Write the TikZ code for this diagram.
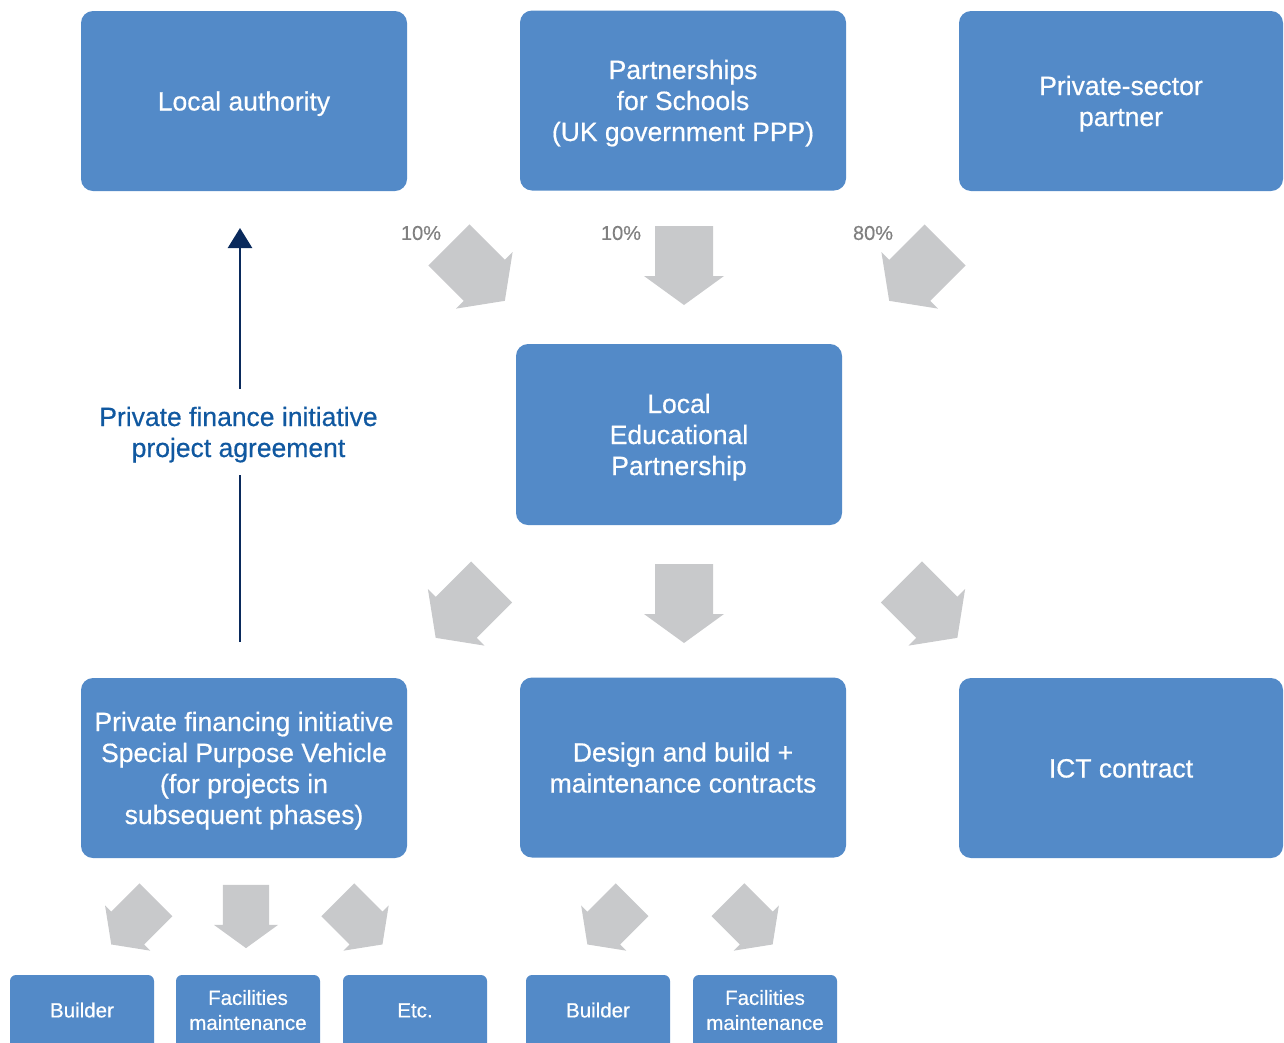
\documentclass[tikz,border=0pt]{standalone}
\usepackage{fontspec}
\setmainfont{Liberation Sans}[FakeBold=0.5]
\usetikzlibrary{arrows.meta}

\definecolor{boxblue}{RGB}{83,138,200}
\definecolor{arrowgrey}{RGB}{200,201,203}
\definecolor{pctgrey}{RGB}{128,128,128}
\definecolor{labelblue}{RGB}{16,88,160}
\definecolor{navy}{RGB}{10,42,92}

% struts that centre the cap height of a text block in its box
\newcommand{\topstrut}{\rule{0pt}{25pt}}
\newcommand{\botstrut}{\rule[-6pt]{0pt}{6pt}}
\newcommand{\topstrutsm}{\rule{0pt}{19pt}}
\newcommand{\botstrutsm}{\rule[-8.3pt]{0pt}{8.3pt}}

\begin{document}
\begin{tikzpicture}[x=1pt,y=-1pt,
  bigbox/.style={rectangle, rounded corners=12pt, fill=boxblue, text=white,
    minimum width=326pt, minimum height=180pt, align=center, inner sep=0pt,
    font=\fontsize{26.5}{31}\selectfont},
  smallbox/.style={rectangle, rounded corners=6pt, fill=boxblue, text=white,
    minimum width=144pt, minimum height=74pt, align=center, inner sep=0pt,
    font=\fontsize{20.5}{25}\selectfont},
  pct/.style={text=pctgrey, font=\fontsize{20}{22}\selectfont, inner sep=0pt},
  blockarrow/.pic={
    \fill[arrowgrey] (-29,-39.5) -- (29,-39.5) -- (29,10.5) -- (40,10.5)
      -- (0,39.5) -- (-40,10.5) -- (-29,10.5) -- cycle;
  }
]
\useasboundingbox (0,0) rectangle (1284,1042);
\clip (0,0) rectangle (1284,1042);

% top row
\node[bigbox] (la)  at (244,101)   {\topstrut Local authority\botstrut};
\node[bigbox] (pfs) at (683,100.5) {\topstrut Partnerships\\for Schools\\(UK government PPP)\botstrut};
\node[bigbox, minimum width=324pt] (psp) at (1121,101) {\topstrut Private-sector\\partner\botstrut};

% shares flowing into the partnership
\node[pct] (p1) at (421,233) {10\%};
\node[pct] (p2) at (621,233) {10\%};
\node[pct] (p3) at (873,233) {80\%};
\pic[rotate=45]  at (476.9,272.9) {blockarrow};
\pic             at (684,265.5)   {blockarrow};
\pic[rotate=-45] at (917.1,272.9) {blockarrow};

% middle
\node[bigbox, minimum height=181pt] (lep) at (679,434.5) {\topstrut Local\\Educational\\Partnership\botstrut};

\pic[rotate=-45] at (463.6,609.9) {blockarrow};
\pic             at (684,603.5)   {blockarrow};
\pic[rotate=45]  at (929.4,609.9) {blockarrow};

% lower row
\node[bigbox] (spv) at (244,768) {\topstrut Private financing initiative\\Special Purpose Vehicle\\(for projects in\\subsequent phases)\botstrut};
\node[bigbox] (dbm) at (683,767.5) {\topstrut Design and build +\\maintenance contracts\botstrut};
\node[bigbox, minimum width=324pt] (ict) at (1121,768) {\topstrut ICT contract\botstrut};

% project agreement link
\coordinate (pfiStart) at (240,642);
\coordinate (pfiTip) at (240,228);
\node[text=labelblue, align=center, inner sep=0pt, minimum height=86pt,
  font=\fontsize{26.5}{31}\selectfont] (pfi) at (238.5,432)
  {\topstrut Private finance initiative\\project agreement\botstrut};
\draw[navy, line width=2.5pt] (pfiStart) -- (pfiStart |- pfi.south);
\draw[navy, line width=2.5pt, -{Triangle[width=24pt,length=20pt]}]
  (pfiStart |- pfi.north) -- (pfiTip);

% sub-contractors
\pic[rotate=-45, scale=0.8] at (133.6,922.1) {blockarrow};
\pic[scale=0.8]             at (246,916.5)   {blockarrow};
\pic[rotate=45, scale=0.8]  at (360.1,922.1) {blockarrow};
\pic[rotate=-45, scale=0.8] at (609.7,922.1) {blockarrow};
\pic[rotate=45, scale=0.8]  at (750.3,922.1) {blockarrow};

\node[smallbox] (b1) at (82,1012)  {\topstrutsm Builder\botstrutsm};
\node[smallbox] (f1) at (248,1012) {\topstrutsm Facilities\\maintenance\botstrutsm};
\node[smallbox] (e1) at (415,1012) {\topstrutsm Etc.\botstrutsm};
\node[smallbox] (b2) at (598,1012) {\topstrutsm Builder\botstrutsm};
\node[smallbox] (f2) at (765,1012) {\topstrutsm Facilities\\maintenance\botstrutsm};
\end{tikzpicture}
\end{document}
